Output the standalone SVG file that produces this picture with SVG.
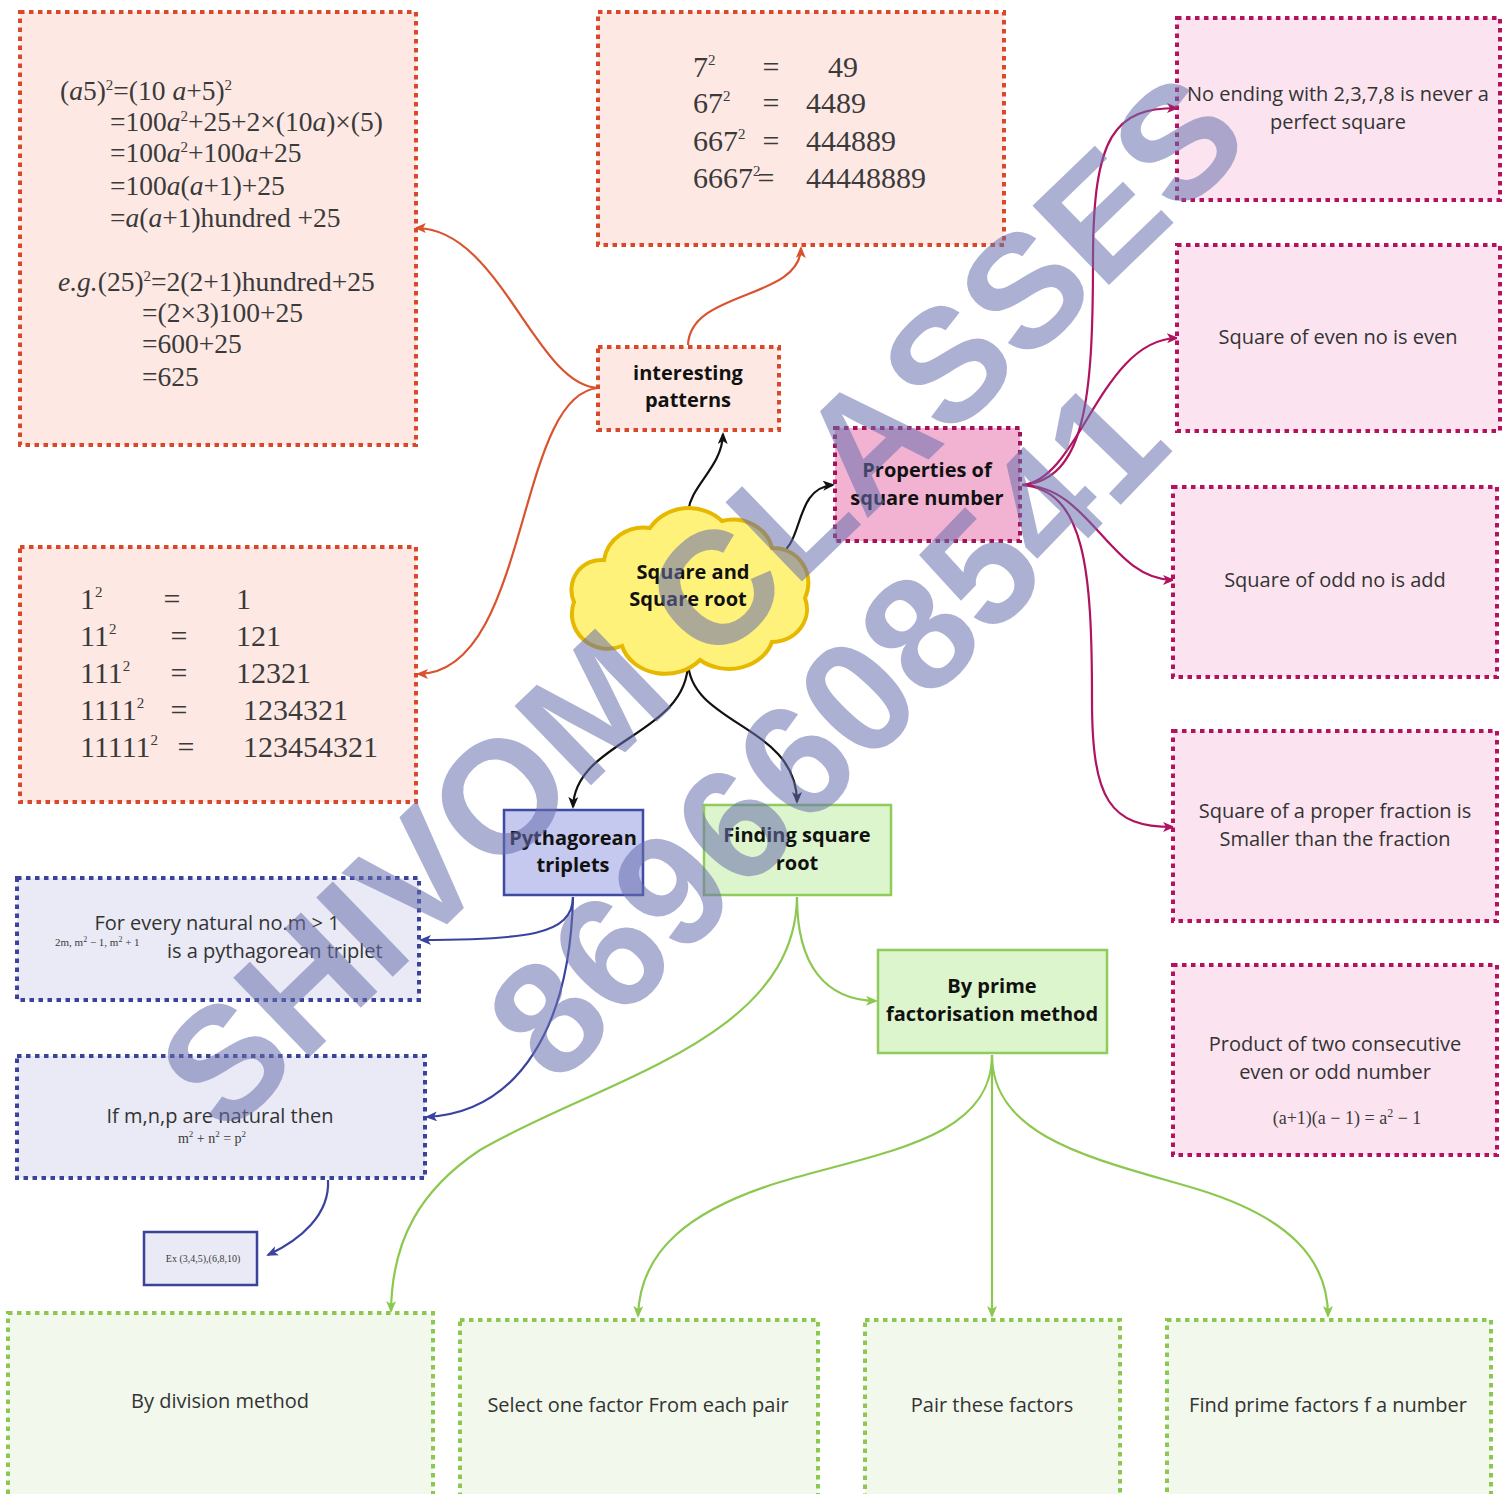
<svg xmlns="http://www.w3.org/2000/svg" width="1511" height="1494" viewBox="0 0 1511 1494">
<style>
.sans{font-family:"Open Sans","Noto Sans","Liberation Sans",sans-serif;}
.serif{font-family:"Liberation Serif","DejaVu Serif",serif;fill:#3a3a3a;}
.bold{font-weight:bold;fill:#111;font-size:20px;}
.reg{font-size:20px;fill:#333;}
.or{fill:#fde8e4;stroke:#d9482b;stroke-width:4;stroke-dasharray:4.5 4.5;}
.pk{fill:#fbe4ef;stroke:#b3125f;stroke-width:4;stroke-dasharray:4.5 4.5;}
.bl{fill:#e9eaf5;stroke:#3a4399;stroke-width:4;stroke-dasharray:4.5 4.5;}
.gr{fill:#f2f8ec;stroke:#8cc850;stroke-width:4;stroke-dasharray:4.5 4.5;}
.c{fill:none;stroke-width:2.2;}
.co{stroke:#d9532f;marker-end:url(#ao);}
.ck{stroke:#111;marker-end:url(#ak);}
.cp{stroke:#b0135f;marker-end:url(#ap);}
.cb{stroke:#3a44a0;marker-end:url(#ab);}
.cg{stroke:#8cc850;marker-end:url(#ag);}
.sup{font-size:15px;}
</style>
<defs>
<marker id="ao" markerWidth="12" markerHeight="10" refX="10" refY="5" orient="auto" markerUnits="userSpaceOnUse"><path d="M0,0 L12,5 L0,10 L3,5 z" fill="#d9532f"/></marker>
<marker id="ak" markerWidth="12" markerHeight="10" refX="10" refY="5" orient="auto" markerUnits="userSpaceOnUse"><path d="M0,0 L12,5 L0,10 L3,5 z" fill="#111"/></marker>
<marker id="ap" markerWidth="12" markerHeight="10" refX="10" refY="5" orient="auto" markerUnits="userSpaceOnUse"><path d="M0,0 L12,5 L0,10 L3,5 z" fill="#b0135f"/></marker>
<marker id="ab" markerWidth="12" markerHeight="10" refX="10" refY="5" orient="auto" markerUnits="userSpaceOnUse"><path d="M0,0 L12,5 L0,10 L3,5 z" fill="#3a44a0"/></marker>
<marker id="ag" markerWidth="12" markerHeight="10" refX="10" refY="5" orient="auto" markerUnits="userSpaceOnUse"><path d="M0,0 L12,5 L0,10 L3,5 z" fill="#8cc850"/></marker>
</defs>
<rect width="1511" height="1494" fill="#fff"/>

<g id="connectors">
<path class="c ck" d="M688,513 C690,485 722,468 723,434"/>
<path class="c ck" d="M775,555 C805,550 792,488 833,485"/>
<path class="c ck" d="M688,662 C688,735 575,740 573,807"/>
<path class="c ck" d="M688,662 C690,725 797,725 797,802"/>
<path class="c co" d="M598,388 C535,385 500,228 416,228"/>
<path class="c co" d="M598,388 C515,395 530,674 418,674"/>
<path class="c co" d="M688,345 C690,290 800,300 801,248"/>
<path class="c cp" d="M1022,485 C1085,480 1093,400 1093,260 C1093,135 1115,108 1177,108"/>
<path class="c cp" d="M1022,485 C1080,480 1100,340 1177,338"/>
<path class="c cp" d="M1022,485 C1090,485 1110,580 1173,580"/>
<path class="c cp" d="M1022,485 C1085,490 1092,570 1092,700 C1092,800 1110,827 1173,827"/>
<path class="c cb" d="M573,897 C573,935 525,940 421,940"/>
<path class="c cb" d="M573,897 C570,1025 520,1112 427,1117"/>
<path class="c cb" d="M328,1180 C330,1215 300,1240 268,1255"/>
<path class="c cg" d="M797,897 C797,965 825,1000 876,1001"/>
<path class="c cg" d="M797,897 C795,1040 600,1080 480,1150 C420,1190 392,1240 391,1311"/>
<path class="c cg" d="M992,1055 C992,1140 880,1152 780,1182 C690,1210 640,1250 638,1316"/>
<path class="c cg" d="M992,1055 L992,1316"/>
<path class="c cg" d="M992,1055 C992,1140 1100,1160 1200,1190 C1290,1218 1328,1260 1328,1316"/>
</g>

<g id="n-formula">
<rect class="or" x="20" y="12" width="396" height="433"/>
<g class="serif" font-size="27.5">
<text x="60" y="100">(<tspan font-style="italic">a</tspan>5)<tspan class="sup" dy="-10">2</tspan><tspan dy="10">=(10 </tspan><tspan font-style="italic">a</tspan>+5)<tspan class="sup" dy="-10">2</tspan></text>
<text x="110" y="131">=100<tspan font-style="italic">a</tspan><tspan class="sup" dy="-10">2</tspan><tspan dy="10">+25+2×(10</tspan><tspan font-style="italic">a</tspan>)×(5)</text>
<text x="110" y="162">=100<tspan font-style="italic">a</tspan><tspan class="sup" dy="-10">2</tspan><tspan dy="10">+100</tspan><tspan font-style="italic">a</tspan>+25</text>
<text x="110" y="195">=100<tspan font-style="italic">a</tspan>(<tspan font-style="italic">a</tspan>+1)+25</text>
<text x="110" y="227">=<tspan font-style="italic">a</tspan>(<tspan font-style="italic">a</tspan>+1)hundred +25</text>
<text x="58" y="291"><tspan font-style="italic">e.g.</tspan>(25)<tspan class="sup" dy="-10">2</tspan><tspan dy="10">=2(2+1)hundred+25</tspan></text>
<text x="142" y="322">=(2×3)100+25</text>
<text x="142" y="353">=600+25</text>
<text x="142" y="386">=625</text>
</g>
</g>

<g id="n-sevens">
<rect class="or" x="598" y="12" width="406" height="233"/>
<g class="serif" font-size="30">
<text x="693" y="77">7<tspan class="sup" dy="-12">2</tspan></text>
<text x="693" y="113">67<tspan class="sup" dy="-12">2</tspan></text>
<text x="693" y="151">667<tspan class="sup" dy="-12">2</tspan></text>
<text x="693" y="188">6667<tspan class="sup" dy="-12">2</tspan></text>
<text x="771" y="77" text-anchor="middle">=</text>
<text x="771" y="113" text-anchor="middle">=</text>
<text x="771" y="151" text-anchor="middle">=</text>
<text x="766" y="188" text-anchor="middle">=</text>
<text x="828" y="77">49</text>
<text x="806" y="113">4489</text>
<text x="806" y="151">444889</text>
<text x="806" y="188">44448889</text>
</g>
</g>

<g id="n-ones">
<rect class="or" x="20" y="547" width="396" height="255"/>
<g class="serif" font-size="30">
<text x="80" y="609">1<tspan class="sup" dy="-12">2</tspan></text>
<text x="80" y="646">11<tspan class="sup" dy="-12">2</tspan></text>
<text x="80" y="683">111<tspan class="sup" dy="-12">2</tspan></text>
<text x="80" y="720">1111<tspan class="sup" dy="-12">2</tspan></text>
<text x="80" y="757">11111<tspan class="sup" dy="-12">2</tspan></text>
<text x="172" y="609" text-anchor="middle">=</text>
<text x="179" y="646" text-anchor="middle">=</text>
<text x="179" y="683" text-anchor="middle">=</text>
<text x="179" y="720" text-anchor="middle">=</text>
<text x="186" y="757" text-anchor="middle">=</text>
<text x="236" y="609">1</text>
<text x="236" y="646">121</text>
<text x="236" y="683">12321</text>
<text x="243" y="720">1234321</text>
<text x="243" y="757">123454321</text>
</g>
</g>

<g id="n-interesting">
<rect class="or" x="598" y="347" width="181" height="83"/>
<text class="sans bold" x="688" y="380" text-anchor="middle">interesting</text>
<text class="sans bold" x="688" y="407" text-anchor="middle">patterns</text>
</g>

<g id="n-root">
<path d="M604,560 A40,38 0 0 1 650,528 A45,40 0 0 1 722,521 A40,36 0 0 1 772,548 A35,35 0 0 1 805,598 A35,33 0 0 1 772,642 A45,38 0 0 1 700,660 A45,38 0 0 1 622,646 A36,35 0 0 1 574,602 A30,30 0 0 1 604,560 Z" fill="#fff27a" stroke="#e6b800" stroke-width="4"/>
<text class="sans bold" x="693" y="579" text-anchor="middle">Square and</text>
<text class="sans bold" x="688" y="606" text-anchor="middle">Square root</text>
</g>

<g id="n-properties">
<rect x="835" y="428" width="185" height="113" fill="#f2b2d2" stroke="#a3125a" stroke-width="4" stroke-dasharray="4.5 4.5"/>
<text class="sans bold" x="927" y="477" text-anchor="middle">Properties of</text>
<text class="sans bold" x="927" y="505" text-anchor="middle">square number</text>
</g>

<g id="n-ending">
<rect class="pk" x="1177" y="18" width="323" height="182"/>
<text class="sans reg" x="1338" y="101" text-anchor="middle">No ending with 2,3,7,8 is never a</text>
<text class="sans reg" x="1338" y="129" text-anchor="middle">perfect square</text>
</g>
<g id="n-even">
<rect class="pk" x="1177" y="245" width="323" height="186"/>
<text class="sans reg" x="1338" y="344" text-anchor="middle">Square of even no is even</text>
</g>
<g id="n-odd">
<rect class="pk" x="1173" y="487" width="324" height="190"/>
<text class="sans reg" x="1335" y="587" text-anchor="middle">Square of odd no is add</text>
</g>
<g id="n-fraction">
<rect class="pk" x="1173" y="731" width="324" height="190"/>
<text class="sans reg" x="1335" y="818" text-anchor="middle">Square of a proper fraction is</text>
<text class="sans reg" x="1335" y="846" text-anchor="middle">Smaller than the fraction</text>
</g>
<g id="n-product">
<rect class="pk" x="1173" y="965" width="324" height="190"/>
<text class="sans reg" x="1335" y="1051" text-anchor="middle">Product of two consecutive</text>
<text class="sans reg" x="1335" y="1079" text-anchor="middle">even or odd number</text>
<text class="serif" x="1347" y="1124" text-anchor="middle" font-size="18" fill="#555">(a+1)(a − 1) = a<tspan font-size="12" dy="-7">2</tspan><tspan dy="7"> − 1</tspan></text>
</g>

<g id="n-pythagorean">
<rect x="504" y="810" width="139" height="85" fill="#c5c8ef" stroke="#3f4aa3" stroke-width="2.5"/>
<text class="sans bold" x="573" y="845" text-anchor="middle">Pythagorean</text>
<text class="sans bold" x="573" y="872" text-anchor="middle">triplets</text>
</g>

<g id="n-finding">
<rect x="704" y="805" width="187" height="90" fill="#ddf5cc" stroke="#8fcc5c" stroke-width="2.5"/>
<text class="sans bold" x="797" y="842" text-anchor="middle">Finding square</text>
<text class="sans bold" x="797" y="870" text-anchor="middle">root</text>
</g>

<g id="n-prime">
<rect x="878" y="950" width="229" height="103" fill="#ddf5cc" stroke="#8fcc5c" stroke-width="2.5"/>
<text class="sans bold" x="992" y="993" text-anchor="middle">By prime</text>
<text class="sans bold" x="992" y="1021" text-anchor="middle">factorisation method</text>
</g>

<g id="n-every">
<rect class="bl" x="17" y="878" width="402" height="122"/>
<text class="sans reg" x="217" y="930" text-anchor="middle">For every natural no.m &gt; 1</text>
<text class="serif" x="55" y="946" font-size="11">2m, m<tspan font-size="8" dy="-4">2</tspan><tspan dy="4"> − 1, m</tspan><tspan font-size="8" dy="-4">2</tspan><tspan dy="4"> + 1</tspan></text>
<text class="sans reg" x="167" y="958">is a pythagorean triplet</text>
</g>

<g id="n-mnp">
<rect class="bl" x="17" y="1056" width="408" height="122"/>
<text class="sans reg" x="220" y="1123" text-anchor="middle">If m,n,p are natural then</text>
<text class="serif" x="212" y="1143" text-anchor="middle" font-size="14" fill="#555">m<tspan font-size="9" dy="-6">2</tspan><tspan dy="6"> + n</tspan><tspan font-size="9" dy="-6">2</tspan><tspan dy="6"> = p</tspan><tspan font-size="9" dy="-6">2</tspan></text>
</g>

<g id="n-ex">
<rect x="144" y="1232" width="113" height="53" fill="#e9eaf5" stroke="#3a4399" stroke-width="2.5"/>
<text class="serif" x="203" y="1262" text-anchor="middle" font-size="10">Ex  (3,4,5),(6,8,10)</text>
</g>

<g id="n-division">
<rect class="gr" x="8" y="1313" width="425" height="183"/>
<text class="sans reg" x="220" y="1408" text-anchor="middle">By division method</text>
</g>
<g id="n-select">
<rect class="gr" x="460" y="1320" width="358" height="176"/>
<text class="sans reg" x="638" y="1412" text-anchor="middle">Select one factor From each pair</text>
</g>
<g id="n-pair">
<rect class="gr" x="865" y="1320" width="255" height="176"/>
<text class="sans reg" x="992" y="1412" text-anchor="middle">Pair these factors</text>
</g>
<g id="n-find">
<rect class="gr" x="1167" y="1320" width="324" height="176"/>
<text class="sans reg" x="1328" y="1412" text-anchor="middle">Find prime factors f a number</text>
</g>

<g id="watermark" fill="#6a70ae" opacity="0.55" font-family="'Liberation Sans',Arial,sans-serif" font-weight="bold" font-size="160" text-anchor="middle">
<text x="700" y="600" dy="0.36em" transform="rotate(-44 700 600)">SHIVOM CLASSES</text>
<text x="825" y="728" dy="0.36em" transform="rotate(-46 825 728)">8696608541</text>
</g>
</svg>
